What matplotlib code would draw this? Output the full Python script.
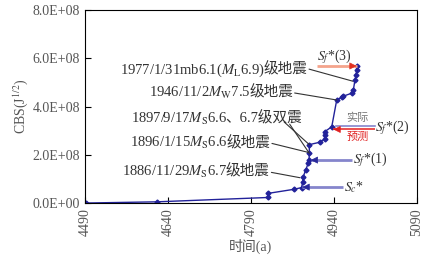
import numpy as np
import matplotlib
matplotlib.use("Agg")
import matplotlib.pyplot as plt
from matplotlib.ticker import FuncFormatter
from matplotlib.offsetbox import TextArea, HPacker, AnnotationBbox

FAM = ['Liberation Serif', 'Noto Sans CJK SC']
plt.rcParams['font.family'] = FAM
plt.rcParams['mathtext.fontset'] = 'stix'

# 数据
years = [4492, 4620, 4821, 4821, 4868, 4881.5, 4883.5, 4884.5, 4889, 4893.5,
         4895, 4895.5, 4895.5, 4914.5, 4923, 4923, 4923.5, 4936, 4945, 4954,
         4957, 4972, 4975, 4978, 4980, 4981, 4982.5]
cbs_e8 = [0, 0.05, 0.23, 0.40, 0.57, 0.64, 0.88, 1.09, 1.37, 1.65,
          1.78, 2.06, 2.42, 2.52, 2.66, 2.80, 2.96, 3.16, 4.27, 4.39,
          4.43, 4.55, 4.68, 5.10, 5.31, 5.51, 5.66]
cbs = np.array(cbs_e8) * 1e8

xticks = [4490, 4640, 4790, 4940, 5090]
yticks = [0, 2e8, 4e8, 6e8, 8e8]

txt_col = '#333333'
line_col = '#22229a'
lav = '#8585cc'
navy = '#2a2a9a'

fig = plt.figure(figsize=(4.33, 2.63), dpi=100)
ax = fig.add_axes([0.196, 0.228, 0.767, 0.734])

ax.plot(years, cbs, color=line_col, lw=1.0, marker='D', ms=2.5)

ax.set_xlim(4490, 5090)
ax.set_ylim(0, 8e8)
ax.set_xticks(xticks)
ax.set_yticks(yticks)
ax.yaxis.set_major_formatter(FuncFormatter(lambda v, p: f"{v:.1E}"))
ax.tick_params(direction='in', length=4, labelsize=10, labelcolor='#555555')
plt.setp(ax.get_xticklabels(), rotation=90)
ax.set_xlabel('时间(a)', fontsize=10, color='#555555', labelpad=2)
ax.set_ylabel('CBS(J$^{1/2}$)', fontsize=10, color='#555555', labelpad=2)


def rich(parts, pos, size=10.5, color=txt_col):
    # 中文与数学公式混排
    kids = [TextArea(p, textprops=dict(fontsize=size, color=color, family=FAM,
                                       fontweight='light'))
            for p in parts]
    box = HPacker(children=kids, align='baseline', pad=0, sep=-1)
    ab = AnnotationBbox(box, pos, xycoords='data', box_alignment=(1, 0.5),
                        frameon=False, pad=0)
    ax.add_artist(ab)


def leader(start, end):
    ax.annotate('', xy=end, xytext=start,
                arrowprops=dict(arrowstyle='-', color='#333333', lw=0.8,
                                shrinkA=0, shrinkB=0))


# 地震标注
rich(['1977/1/31mb6.1($M_{\\mathrm{L}}$6.9)', '级地震'], (4892, 5.52e8))
leader((4895, 5.55e8), (4974, 5.05e8))
rich(['1946/11/2$M_{\\mathrm{W}}$7.5', '级地震'], (4866, 4.56e8))
leader((4869, 4.56e8), (years[18], cbs[18]))
rich(['1897/9/17$M_{\\mathrm{S}}$6.6', '、6.7级双震'], (4883, 3.5e8))
leader((4850, 3.36e8), (years[12], cbs[12]))
leader((4860, 3.27e8), (years[11], cbs[11]))
rich(['1896/1/15$M_{\\mathrm{S}}$6.6', '级地震'], (4825, 2.47e8))
leader((4828, 2.47e8), (4893.5, 2.1e8))
rich(['1886/11/29$M_{\\mathrm{S}}$6.7', '级地震'], (4824, 1.3e8))
leader((4827, 1.27e8), (4878.5, 1.05e8))


def arrow(x0, x1, y, lcol, hcol, lw=2.0):
    ax.plot([x0, x1], [y, y], color=lcol, lw=lw, solid_capstyle='butt')
    d = 9 if x1 < x0 else -9
    ax.annotate('', xy=(x1, y), xytext=(x1 + d, y),
                arrowprops=dict(arrowstyle='-|>', color=hcol, lw=0.5,
                                mutation_scale=11, shrinkA=0, shrinkB=0))


# S_f*(3)
arrow(4909, 4981, 5.68e8, '#f4a48c', '#e03020')
ax.text(4940, 6.05e8, '$S_{f}$*(3)', ha='center', va='center', fontsize=10, color=txt_col)

# 实际 / 预测
ax.plot([4944, 5014], [3.19e8, 3.19e8], color=lav, lw=1.2)
arrow(5014, 4939, 3.05e8, '#e83030', '#e02020', lw=1.2)
ax.text(4983, 3.52e8, '实际', ha='center', va='center', fontsize=8, color='#777777')
ax.text(4983, 2.74e8, '预测', ha='center', va='center', fontsize=8, color='#e02020')
ax.text(5015, 3.11e8, '$S_{f}$*(2)', ha='left', va='center', fontsize=10, color=txt_col)

# S_f*(1)
arrow(4972, 4898, 1.78e8, lav, navy)
ax.text(4974, 1.78e8, '$S_{f}$*(1)', ha='left', va='center', fontsize=10, color=txt_col)

# S_c*
arrow(4956, 4883, 0.66e8, lav, navy)
ax.text(4958, 0.66e8, '$S_{c}$*', ha='left', va='center', fontsize=10, color=txt_col)

plt.savefig('out.png', dpi=100)
